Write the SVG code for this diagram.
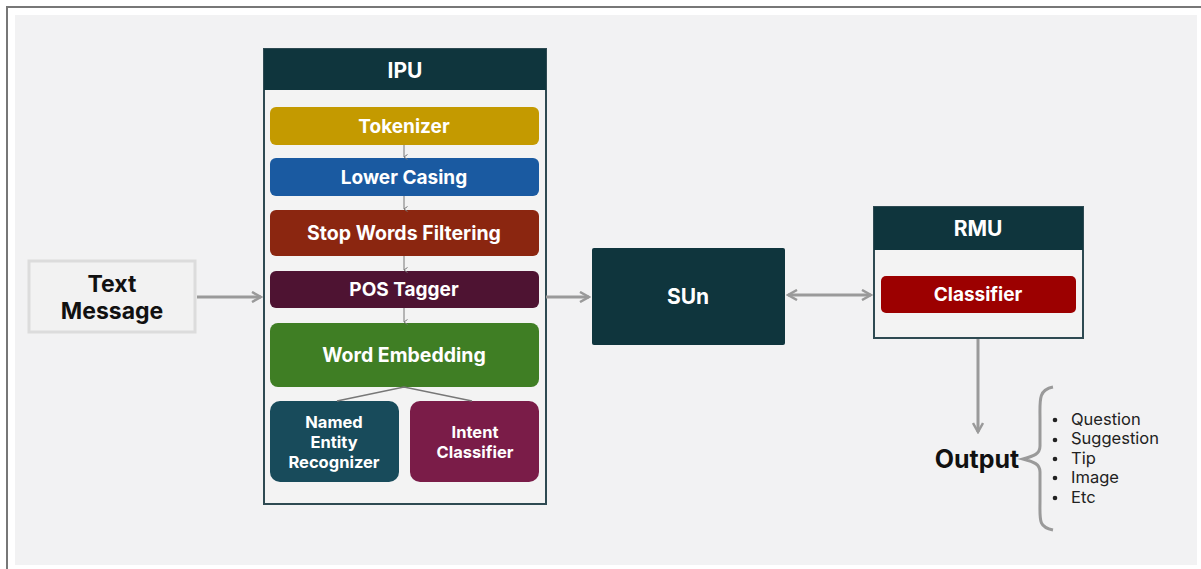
<svg xmlns="http://www.w3.org/2000/svg" width="1201" height="569" viewBox="0 0 1201 569">
<style>
.t{font-family:Inter,"Liberation Sans",sans-serif;font-weight:700;fill:#fff;text-anchor:middle}
.k{font-family:Inter,"Liberation Sans",sans-serif;font-weight:700;fill:#111;text-anchor:middle}
.l{font-family:Inter,"Liberation Sans",sans-serif;font-weight:400;fill:#222;font-size:16.5px}
.c{stroke:#9a9a9a;stroke-width:3;fill:none}
.s{stroke:#777;stroke-width:1;fill:none}
</style>
<defs>
<marker id="ah" viewBox="0 0 12 12" refX="10" refY="6" markerWidth="12" markerHeight="12" markerUnits="userSpaceOnUse" orient="auto-start-reverse">
<path d="M1,1 L10,6 L1,11" fill="none" stroke="#9a9a9a" stroke-width="2.5"/>
</marker>
<marker id="sm" viewBox="0 0 6 6" refX="3" refY="5" markerWidth="6" markerHeight="6" markerUnits="userSpaceOnUse" orient="auto">
<path d="M0.5,1.5 L3,5 L5.5,1.5" fill="none" stroke="#777" stroke-width="1"/>
</marker>
</defs>
<rect x="0" y="0" width="1201" height="569" fill="#fff"/>
<rect x="15" y="15" width="1182" height="550" fill="#f2f2f3"/>
<path d="M7,569 V7 H1201" fill="none" stroke="#777" stroke-width="2"/>

<g id="text-message">
<rect x="29" y="261" width="166" height="71" fill="#f2f2f2" stroke="#dcdcdc" stroke-width="3"/>
<text class="k" x="112" y="292" font-size="23">Text</text>
<text class="k" x="112" y="319" font-size="23">Message</text>
</g>

<g id="ipu">
<rect x="264" y="49" width="282" height="455" fill="#f3f3f3" stroke="#2e4a52" stroke-width="2"/>
<rect x="264" y="49" width="282" height="41" fill="#0f353d"/>
<text class="t" x="405" y="78" font-size="21">IPU</text>
</g>
<g id="tokenizer">
<rect x="270" y="107" width="269" height="38" rx="6" fill="#c49a00"/>
<text class="t" x="404" y="133" font-size="19">Tokenizer</text>
</g>
<g id="lower-casing">
<rect x="270" y="158" width="269" height="38" rx="6" fill="#1a5aa1"/>
<text class="t" x="404" y="184" font-size="19">Lower Casing</text>
</g>
<g id="stop-words">
<rect x="270" y="210" width="269" height="46" rx="6" fill="#8b2610"/>
<text class="t" x="404" y="240" font-size="19.5">Stop Words Filtering</text>
</g>
<g id="pos-tagger">
<rect x="270" y="271" width="269" height="37" rx="6" fill="#4e1332"/>
<text class="t" x="404" y="296" font-size="19">POS Tagger</text>
</g>
<g id="word-embedding">
<rect x="270" y="323" width="269" height="64" rx="8" fill="#3f7e24"/>
<text class="t" x="404" y="362" font-size="19.5">Word Embedding</text>
</g>
<g id="ner">
<rect x="270" y="401" width="129" height="81" rx="10" fill="#184b5b"/>
<text class="t" x="334" y="428" font-size="16.5">Named</text>
<text class="t" x="334" y="448" font-size="16.5">Entity</text>
<text class="t" x="334" y="468" font-size="16.5">Recognizer</text>
</g>
<g id="intent-classifier">
<rect x="410" y="401" width="129" height="81" rx="10" fill="#7a1c48"/>
<text class="t" x="475" y="438" font-size="16.5">Intent</text>
<text class="t" x="475" y="458" font-size="16.5">Classifier</text>
</g>

<g id="sun">
<rect x="592" y="248" width="193" height="97" rx="2" fill="#0f353d"/>
<text class="t" x="688" y="304" font-size="21">SUn</text>
</g>

<g id="rmu">
<rect x="874" y="207" width="209" height="131" fill="#f3f3f3" stroke="#2e4a52" stroke-width="2"/>
<rect x="874" y="207" width="209" height="43" fill="#0f353d"/>
<text class="t" x="978" y="236" font-size="21">RMU</text>
</g>
<g id="classifier">
<rect x="881" y="276" width="195" height="37" rx="5" fill="#9c0000"/>
<text class="t" x="978" y="301" font-size="19">Classifier</text>
</g>

<g id="output">
<text class="k" x="977" y="468" font-size="25">Output</text>
<path d="M1053,387 C1038,390 1040,400 1040,420 L1040,446 C1040,454 1034,456 1023,459 C1034,462 1040,464 1040,472 L1040,500 C1040,520 1038,527 1053,530" fill="none" stroke="#9a9a9a" stroke-width="3"/>
<g>
<circle cx="1055" cy="420" r="2.3" fill="#222"/>
<circle cx="1055" cy="440" r="2.3" fill="#222"/>
<circle cx="1055" cy="459" r="2.3" fill="#222"/>
<circle cx="1055" cy="478" r="2.3" fill="#222"/>
<circle cx="1055" cy="498" r="2.3" fill="#222"/>
<text class="l" x="1071" y="425">Question</text>
<text class="l" x="1071" y="444">Suggestion</text>
<text class="l" x="1071" y="464">Tip</text>
<text class="l" x="1071" y="483">Image</text>
<text class="l" x="1071" y="503">Etc</text>
</g>
</g>

<g id="connectors">
<line class="c" x1="197" y1="297" x2="261" y2="297" marker-end="url(#ah)"/>
<line class="c" x1="546" y1="297" x2="589" y2="297" marker-end="url(#ah)"/>
<line class="c" x1="788" y1="295" x2="871" y2="295" marker-start="url(#ah)" marker-end="url(#ah)"/>
<line class="c" x1="978" y1="339" x2="978" y2="432" marker-end="url(#ah)"/>
<line class="s" x1="404" y1="145" x2="404" y2="157" marker-end="url(#sm)"/>
<line class="s" x1="404" y1="196" x2="404" y2="209" marker-end="url(#sm)"/>
<line class="s" x1="404" y1="256" x2="404" y2="270" marker-end="url(#sm)"/>
<line class="s" x1="404" y1="308" x2="404" y2="322" marker-end="url(#sm)"/>
<path d="M337,401 L404,387 L472,401" fill="none" stroke="#777" stroke-width="1.5"/>
</g>
</svg>
